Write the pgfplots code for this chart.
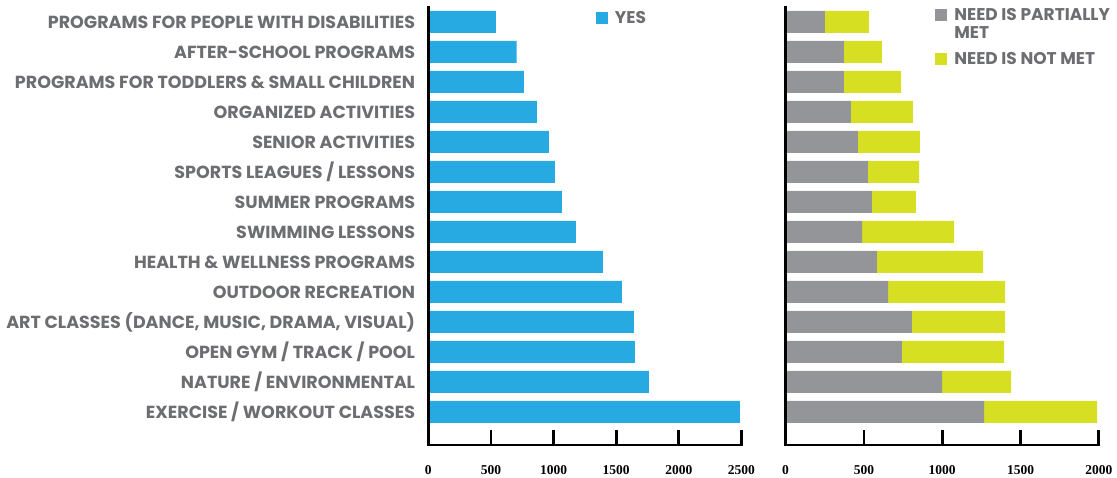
\documentclass[border=0pt]{standalone}
\usepackage{fontspec}
\usepackage{pgfplots}
\usepackage{pgfplotstable}
\pgfplotsset{compat=1.18}
\newfontfamily\labelfont{Poppins}
\newfontfamily\numfont{Liberation Serif}
\definecolor{barblue}{HTML}{27AAE1}
\definecolor{bargray}{HTML}{939598}
\definecolor{baryellow}{HTML}{D7DF23}
\definecolor{textgray}{HTML}{6D6E71}

\pgfplotstableread{
idx yes part notmet
0 2487 1267 723
1 1760 999 441
2 1648 743 652
3 1640 806 596
4 1545 654 748
5 1393 583 678
6 1178 488 588
7 1066 551 281
8 1010 526 326
9 962 461 397
10 866 417 396
11 762 372 365
12 706 372 243
13 539 251 281
}\datatable

\pgfplotsset{
  panel/.style={
    scale only axis, width=313.2pt, height=438pt,
    ymin=-1.107, ymax=13.5, xmin=0,
    axis x line=bottom, axis y line=left,
    axis line style={-, line width=2.8pt, line cap=rect, black},
    axis on top,
    tick align=inside, major tick length=15pt,
    x tick style={line width=2.8pt, black},
    y tick style={draw=none},
    ytick={0,...,13},
    scaled ticks=false,
    /pgf/number format/assume math mode=true,
    /pgf/number format/1000 sep={},
    x tick label style={font=\numfont\bfseries\fontsize{13.5}{14}\selectfont, anchor=north, inner sep=0pt, yshift=-20pt},
    bar width=22pt,
    legend style={draw=none, fill=none, inner sep=0pt, outer sep=0pt,
      font=\labelfont\bfseries\fontsize{17}{18.3}\selectfont\color{textgray},
      nodes={inner sep=0pt, align=left}, column sep=7pt, row sep=12pt},
    legend cell align=left,
  },
  sq/.style={legend image code/.code={\fill[##1, draw=none] (0pt,-6pt) rectangle (12pt,6pt);}},
  sqhigh/.style={legend image code/.code={\fill[##1, draw=none] (0pt,3.15pt) rectangle (12pt,15.15pt);}},
}

\begin{document}
\begin{tikzpicture}[x=1pt,y=1pt]
\useasboundingbox (0,0) rectangle (1117,478);
\begin{axis}[panel,
  at={(428.3pt,33pt)}, anchor=south west,
  xmax=2500, xtick={0,500,...,2500},
  xbar,
  yticklabels={EXERCISE / WORKOUT CLASSES, NATURE / ENVIRONMENTAL, OPEN GYM / TRACK / POOL, {ART CLASSES (DANCE, MUSIC, DRAMA, VISUAL)}, OUTDOOR RECREATION, HEALTH \& WELLNESS PROGRAMS, SWIMMING LESSONS, SUMMER PROGRAMS, SPORTS LEAGUES / LESSONS, SENIOR ACTIVITIES, ORGANIZED ACTIVITIES, PROGRAMS FOR TODDLERS \& SMALL CHILDREN, AFTER-SCHOOL PROGRAMS, PROGRAMS FOR PEOPLE WITH DISABILITIES},
  y tick label style={font=\labelfont\bfseries\fontsize{17.5}{18}\selectfont, text=textgray, anchor=east, inner sep=0pt, xshift=2pt},
  legend style={at={(0.5354,0.99)}, anchor=north west},
]
\addplot[fill=barblue, draw=none, sq] table[x=yes, y=idx] {\datatable};
\addlegendentry{YES}
\end{axis}
\begin{axis}[panel,
  at={(785.6pt,33pt)}, anchor=south west,
  xmax=2000, xtick={0,500,...,2000},
  xbar stacked,
  yticklabels={},
  legend style={at={(0.478,0.997)}, anchor=north west},
]
\addplot[fill=bargray, draw=none, sqhigh] table[x=part, y=idx] {\datatable};
\addlegendentry{NEED IS PARTIALLY\\MET}
\addplot[fill=baryellow, draw=none, sq] table[x=notmet, y=idx] {\datatable};
\addlegendentry{NEED IS NOT MET}
\end{axis}
\end{tikzpicture}
\end{document}
